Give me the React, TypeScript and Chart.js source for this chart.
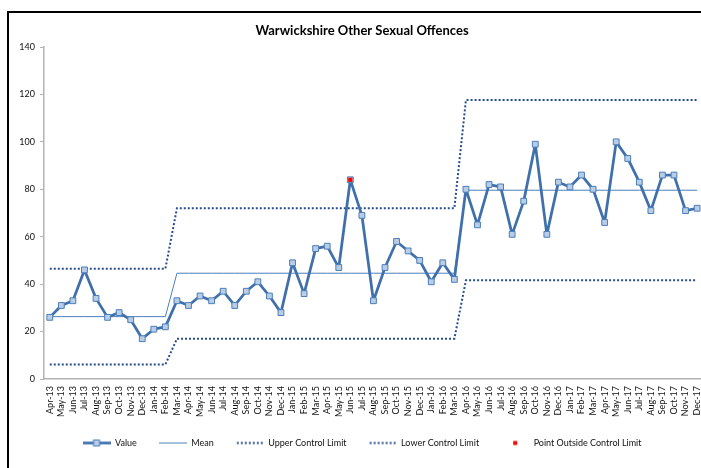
import React, { useEffect, useRef } from "react";
import { Chart, registerables } from "chart.js";

Chart.register(...registerables);

const chartTitle = "Warwickshire Other Sexual Offences";

const months = [
  "Apr-13", "May-13", "Jun-13", "Jul-13", "Aug-13", "Sep-13", "Oct-13", "Nov-13", "Dec-13",
  "Jan-14", "Feb-14", "Mar-14", "Apr-14", "May-14", "Jun-14", "Jul-14", "Aug-14", "Sep-14", "Oct-14", "Nov-14", "Dec-14",
  "Jan-15", "Feb-15", "Mar-15", "Apr-15", "May-15", "Jun-15", "Jul-15", "Aug-15", "Sep-15", "Oct-15", "Nov-15", "Dec-15",
  "Jan-16", "Feb-16", "Mar-16", "Apr-16", "May-16", "Jun-16", "Jul-16", "Aug-16", "Sep-16", "Oct-16", "Nov-16", "Dec-16",
  "Jan-17", "Feb-17", "Mar-17", "Apr-17", "May-17", "Jun-17", "Jul-17", "Aug-17", "Sep-17", "Oct-17", "Nov-17", "Dec-17",
];

const values = [
  26, 31, 33, 46, 34, 26, 28, 25, 17,
  21, 22, 33, 31, 35, 33, 37, 31, 37, 41, 35, 28,
  49, 36, 55, 56, 47, 84, 69, 33, 47, 58, 54, 50,
  41, 49, 42, 80, 65, 82, 81, 61, 75, 99, 61, 83,
  81, 86, 80, 66, 100, 93, 83, 71, 86, 86, 71, 72,
];

const meanValues = [
  26.3, 26.3, 26.3, 26.3, 26.3, 26.3, 26.3, 26.3, 26.3,
  26.3, 26.3, 44.6, 44.6, 44.6, 44.6, 44.6, 44.6, 44.6, 44.6, 44.6, 44.6,
  44.6, 44.6, 44.6, 44.6, 44.6, 44.6, 44.6, 44.6, 44.6, 44.6, 44.6, 44.6,
  44.6, 44.6, 44.6, 79.6, 79.6, 79.6, 79.6, 79.6, 79.6, 79.6, 79.6, 79.6,
  79.6, 79.6, 79.6, 79.6, 79.6, 79.6, 79.6, 79.6, 79.6, 79.6, 79.6, 79.6,
];

const upperLimit = [
  46.5, 46.5, 46.5, 46.5, 46.5, 46.5, 46.5, 46.5, 46.5,
  46.5, 46.5, 72.0, 72.0, 72.0, 72.0, 72.0, 72.0, 72.0, 72.0, 72.0, 72.0,
  72.0, 72.0, 72.0, 72.0, 72.0, 72.0, 72.0, 72.0, 72.0, 72.0, 72.0, 72.0,
  72.0, 72.0, 72.0, 117.6, 117.6, 117.6, 117.6, 117.6, 117.6, 117.6, 117.6, 117.6,
  117.6, 117.6, 117.6, 117.6, 117.6, 117.6, 117.6, 117.6, 117.6, 117.6, 117.6, 117.6,
];

const lowerLimit = [
  6.1, 6.1, 6.1, 6.1, 6.1, 6.1, 6.1, 6.1, 6.1,
  6.1, 6.1, 17.0, 17.0, 17.0, 17.0, 17.0, 17.0, 17.0, 17.0, 17.0, 17.0,
  17.0, 17.0, 17.0, 17.0, 17.0, 17.0, 17.0, 17.0, 17.0, 17.0, 17.0, 17.0,
  17.0, 17.0, 17.0, 41.6, 41.6, 41.6, 41.6, 41.6, 41.6, 41.6, 41.6, 41.6,
  41.6, 41.6, 41.6, 41.6, 41.6, 41.6, 41.6, 41.6, 41.6, 41.6, 41.6, 41.6,
];

const outsidePoints = [
  null, null, null, null, null, null, null, null, null,
  null, null, null, null, null, null, null, null, null, null, null, null,
  null, null, null, null, null, 84, null, null, null, null, null, null,
  null, null, null, null, null, null, null, null, null, null, null, null,
  null, null, null, null, null, null, null, null, null, null, null, null,
];

const seriesNames = ["Value", "Mean", "Upper Control Limit", "Lower Control Limit", "Point Outside Control Limit"];

const yMin = 0;
const yMax = 140;
const yStep = 20;

const FONT = "Lato, 'Liberation Sans', sans-serif";
const VALUE_COLOR = "#4070ac";
const MARKER_FILL = "#b9cde5";
const MARKER_BORDER = "#4a7ebb";
const MEAN_COLOR = "#4a7ebb";
const LIMIT_COLOR = "#264d8c";
const AXIS_COLOR = "#b3b3b3";

function makeSample(draw: (ctx: CanvasRenderingContext2D) => void): HTMLCanvasElement {
  const c = document.createElement("canvas");
  c.width = 28;
  c.height = 9;
  const ctx = c.getContext("2d")!;
  draw(ctx);
  return c;
}

export default function App() {
  const ref = useRef<HTMLCanvasElement>(null);

  useEffect(() => {
    const samples = [
      makeSample((ctx) => {
        ctx.strokeStyle = VALUE_COLOR;
        ctx.lineWidth = 2.75;
        ctx.beginPath();
        ctx.moveTo(0, 4.5);
        ctx.lineTo(28, 4.5);
        ctx.stroke();
        ctx.fillStyle = MARKER_FILL;
        ctx.fillRect(11, 1.5, 6, 6);
        ctx.strokeStyle = MARKER_BORDER;
        ctx.lineWidth = 1;
        ctx.strokeRect(11, 1.5, 6, 6);
      }),
      makeSample((ctx) => {
        ctx.strokeStyle = MEAN_COLOR;
        ctx.lineWidth = 1;
        ctx.beginPath();
        ctx.moveTo(0, 4.5);
        ctx.lineTo(28, 4.5);
        ctx.stroke();
      }),
      makeSample((ctx) => {
        ctx.strokeStyle = LIMIT_COLOR;
        ctx.lineWidth = 2;
        ctx.setLineDash([2, 2]);
        ctx.beginPath();
        ctx.moveTo(1, 4.5);
        ctx.lineTo(27, 4.5);
        ctx.stroke();
      }),
      makeSample((ctx) => {
        ctx.strokeStyle = LIMIT_COLOR;
        ctx.lineWidth = 2;
        ctx.setLineDash([2, 2]);
        ctx.beginPath();
        ctx.moveTo(1, 4.5);
        ctx.lineTo(27, 4.5);
        ctx.stroke();
      }),
      makeSample((ctx) => {
        ctx.fillStyle = "#ff0000";
        ctx.fillRect(12, 2.5, 4, 4);
      }),
    ];

    const chart = new Chart(ref.current!, {
      type: "line",
      data: {
        labels: months,
        datasets: [
          {
            label: seriesNames[0],
            data: values,
            borderColor: VALUE_COLOR,
            borderWidth: 2.75,
            borderJoinStyle: "round",
            borderCapStyle: "round",
            pointStyle: "rect",
            pointRadius: 4.1,
            pointBackgroundColor: MARKER_FILL,
            pointBorderColor: MARKER_BORDER,
            pointBorderWidth: 1,
            tension: 0,
            order: 1,
          },
          {
            label: seriesNames[1],
            data: meanValues,
            borderColor: MEAN_COLOR,
            borderWidth: 1,
            pointRadius: 0,
            tension: 0,
            order: 2,
          },
          {
            label: seriesNames[2],
            data: upperLimit,
            borderColor: LIMIT_COLOR,
            borderWidth: 2,
            borderDash: [2, 2],
            pointRadius: 0,
            tension: 0,
            order: 3,
          },
          {
            label: seriesNames[3],
            data: lowerLimit,
            borderColor: LIMIT_COLOR,
            borderWidth: 2,
            borderDash: [2, 2],
            pointRadius: 0,
            tension: 0,
            order: 4,
          },
          {
            label: seriesNames[4],
            data: outsidePoints,
            showLine: false,
            pointStyle: "rect",
            pointRadius: 3,
            pointBackgroundColor: "#ff0000",
            pointBorderColor: "#ff0000",
            pointBorderWidth: 0,
            order: 0,
          },
        ],
      },
      options: {
        responsive: false,
        animation: false,
        devicePixelRatio: 1,
        layout: { padding: { left: 0, right: 0, top: 0, bottom: 25.5 } },
        scales: {
          x: {
            type: "category",
            offset: true,
            grid: { display: false, drawTicks: false },
            border: { display: true, color: AXIS_COLOR, width: 1.5 },
            ticks: {
              autoSkip: false,
              minRotation: 90,
              maxRotation: 90,
              padding: 7,
              color: "#111",
              font: { family: FONT, size: 9 },
            },
            afterFit: (s: any) => {
              s.height = 37.5;
            },
          },
          y: {
            min: yMin,
            max: yMax,
            ticks: {
              stepSize: yStep,
              padding: 5,
              color: "#111",
              font: { family: FONT, size: 9 },
            },
            grid: {
              display: true,
              drawOnChartArea: false,
              drawTicks: true,
              tickLength: 4,
              color: AXIS_COLOR,
            },
            border: { display: true, color: AXIS_COLOR, width: 1.5 },
            afterFit: (s: any) => {
              s.width = 35;
            },
          },
          y2: {
            position: "right",
            display: true,
            grid: { display: false },
            ticks: { display: false },
            border: { display: false },
            afterFit: (s: any) => {
              s.width = 10;
            },
          },
        },
        plugins: {
          tooltip: { enabled: false },
          title: {
            display: true,
            text: chartTitle,
            color: "#000",
            font: { family: FONT, size: 13, weight: "bold", lineHeight: 1.2 },
            padding: { top: 10.2, bottom: 8.2 },
          },
          legend: {
            display: true,
            position: "bottom",
            labels: {
              usePointStyle: true,
              pointStyleWidth: 28,
              boxHeight: 9,
              padding: 22,
              color: "#111",
              font: { family: FONT, size: 9 },
              generateLabels: () =>
                seriesNames.map((text, i) => ({
                  text,
                  pointStyle: samples[i] as any,
                  fillStyle: "rgba(0,0,0,0)",
                  strokeStyle: "rgba(0,0,0,0)",
                  lineWidth: 0,
                  hidden: false,
                  datasetIndex: i,
                  fontColor: "#111",
                })),
            },
          },
        },
      },
    });
    return () => chart.destroy();
  }, []);

  return (
    <div
      style={{
        position: "fixed",
        left: 0,
        top: 0,
        width: 701,
        height: 468,
        overflow: "hidden",
        background: "#fff",
      }}
    >
      <div
        style={{
          position: "absolute",
          left: 7,
          top: 11,
          width: 706,
          height: 470,
          border: "2px solid #000",
        }}
      >
        <canvas ref={ref} width={706} height={470} style={{ display: "block", width: 706, height: 470 }} />
      </div>
    </div>
  );
}
